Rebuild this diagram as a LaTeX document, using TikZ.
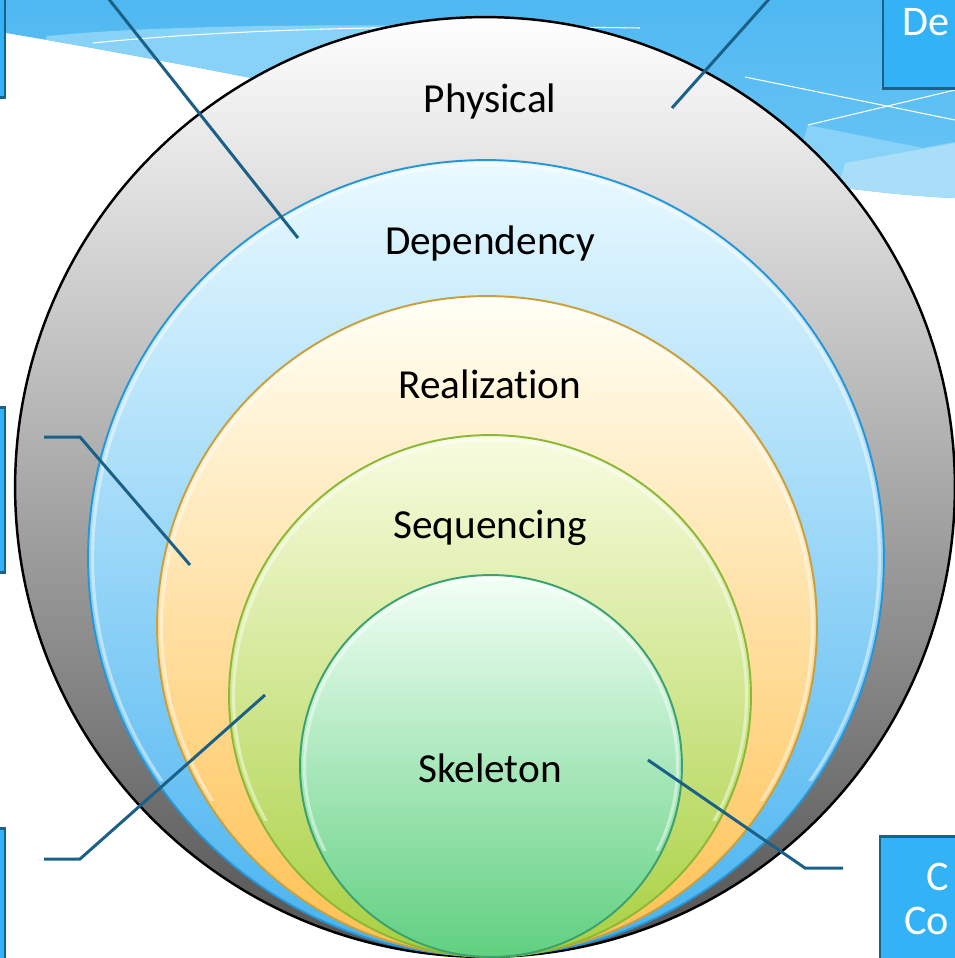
\documentclass[tikz,border=0pt]{standalone}
\usepackage{fontspec}
\setmainfont[Ligatures=NoCommon]{Carlito}
\usetikzlibrary{positioning}

\definecolor{swoosh}{HTML}{4FB8F1}
\definecolor{swooshlow}{HTML}{6CC6F5}
\definecolor{swooshlight}{HTML}{88D2F7}
\definecolor{swooshpale}{HTML}{A9DEF9}
\definecolor{boxblue}{HTML}{33B3F6}
\definecolor{leader}{HTML}{1A6087}
% ring colours: top, middle, bottom, edge
\definecolor{depTop}{HTML}{EAFAFF}
\definecolor{depMid}{HTML}{B2E4FA}
\definecolor{depBot}{HTML}{46B2F0}
\definecolor{depEdge}{HTML}{2696D6}
\definecolor{realTop}{HTML}{FFFFF4}
\definecolor{realMid}{HTML}{FFE8B0}
\definecolor{realBot}{HTML}{FFC050}
\definecolor{realEdge}{HTML}{C8A040}
\definecolor{seqTop}{HTML}{F8FCE0}
\definecolor{seqMid}{HTML}{E0F0A0}
\definecolor{seqBot}{HTML}{A8D040}
\definecolor{seqEdge}{HTML}{8CB838}
\definecolor{skelTop}{HTML}{F2FFF6}
\definecolor{skelMid}{HTML}{A8EDB8}
\definecolor{skelBot}{HTML}{60D080}
\definecolor{skelEdge}{HTML}{3CA070}

\tikzset{
  leaderline/.style={leader, line width=1.7pt},
  sidebox/.style={fill=boxblue, draw=leader, line width=1.7pt},
  ringtext/.style={font=\fontsize{23.5}{28}\selectfont},
  boxtext/.style={font=\fontsize{24}{28}\selectfont, text=white, anchor=west, inner sep=0pt},
  gloss/.style={white, opacity=0.45, line width=1.8pt},
}

\begin{document}
\begin{tikzpicture}[x=0.02cm, y=-0.02cm]
    \useasboundingbox (0,0) rectangle (955,958);
    \clip (0,0) rectangle (955,958);

    % background swoosh
    \shade[top color=swoosh, bottom color=swooshlow] (0,0) -- (955,0) -- (955,198) .. controls (750,190) and (350,90) .. (0,32) -- cycle;
    \begin{scope}
      \clip (0,0) -- (955,0) -- (955,198) .. controls (750,190) and (350,90) .. (0,32) -- cycle;
      \fill[swooshlight] (47,36) .. controls (150,26) and (300,24) .. (500,26) -- (500,200) -- (0,200) -- cycle;
      \fill[swooshlight] (808,125) -- (923,148) -- (955,142) -- (955,220) -- (780,220) -- cycle;
      \fill[swooshpale] (845,163) -- (955,143) -- (955,220) -- (830,220) -- cycle;
    \end{scope}
    \draw[white, line width=0.6pt] (93,43) .. controls (250,27) and (450,25) .. (640,28);
    \draw[white, line width=0.6pt] (745,77) -- (955,120);
    \draw[white, line width=0.6pt] (808,125) -- (955,90);

    \coordinate (c1) at (485,487);
    \coordinate (c2) at (486,558);
    \coordinate (c3) at (487,626);
    \coordinate (c4) at (490,696);
    \coordinate (c5) at (491,766);

    % nested rings, gloss only on the upper part
    \shade[top color=white, middle color=black!22, bottom color=black!68] (c1) circle[radius=9.4cm];
    \draw[black, line width=1.4pt] (c1) circle[radius=9.4cm];
    \shade[top color=depTop, middle color=depMid, bottom color=depBot] (c2) circle[radius=7.96cm];
    \begin{scope}
      \clip (0,0) rectangle (955,780);
      \draw[gloss] (c2) circle[radius=7.87cm];
    \end{scope}
    \draw[depEdge, line width=1.1pt] (c2) circle[radius=7.96cm];
    \shade[top color=realTop, middle color=realMid, bottom color=realBot] (c3) circle[radius=6.6cm];
    \begin{scope}
      \clip (0,0) rectangle (955,800);
      \draw[gloss] (c3) circle[radius=6.51cm];
    \end{scope}
    \draw[realEdge, line width=1.1pt] (c3) circle[radius=6.6cm];
    \shade[top color=seqTop, middle color=seqMid, bottom color=seqBot] (c4) circle[radius=5.22cm];
    \begin{scope}
      \clip (0,0) rectangle (955,820);
      \draw[gloss] (c4) circle[radius=5.13cm];
    \end{scope}
    \draw[seqEdge, line width=1.1pt] (c4) circle[radius=5.22cm];
    \shade[top color=skelTop, middle color=skelMid, bottom color=skelBot] (c5) circle[radius=3.82cm];
    \begin{scope}
      \clip (0,0) rectangle (955,850);
      \draw[gloss] (c5) circle[radius=3.73cm];
    \end{scope}
    \draw[skelEdge, line width=1.1pt] (c5) circle[radius=3.82cm];

    \node[ringtext] (physical) at (490,101) {Physical};
    \node[ringtext] (dependency) at (490,243) {Dependency};
    \node[ringtext] (realization) at (490,384) {Realization};
    \node[ringtext] (sequencing) at (490,528) {Sequencing};
    \node[ringtext] (skeleton) at (490,768) {Skeleton};

    % side boxes, cut by the page edge
    \draw[sidebox] (-100,-50) rectangle (5,97);
    \draw[sidebox] (883,-50) rectangle (1050,88);
    \draw[sidebox] (-100,407) rectangle (5,572);
    \draw[sidebox] (-100,828) rectangle (5,1050);
    \draw[sidebox] (880,836) rectangle (1050,1050);
    \node[boxtext] (tr-text) at (902,22) {De};
    \node[boxtext] (br-text1) at (926,877) {C};
    \node[boxtext] (br-text2) at (904,921) {Co};

    % leader lines
    \coordinate (d-in) at (108,-2);
    \coordinate (d-tip) at (298,238);
    \coordinate (p-in) at (770,-2);
    \coordinate (p-tip) at (672,108);
    \coordinate (r-end) at (44,437);
    \coordinate (r-bend) at (80,437);
    \coordinate (r-tip) at (190,565);
    \coordinate (s-end) at (44,859);
    \coordinate (s-bend) at (80,859);
    \coordinate (s-tip) at (265,695);
    \coordinate (k-tip) at (648,760);
    \coordinate (k-bend) at (805,868);
    \coordinate (k-end) at (843,868);
    \draw[leaderline] (d-in) -- (d-tip);
    \draw[leaderline] (p-in) -- (p-tip);
    \draw[leaderline] (r-end) -- (r-bend) -- (r-tip);
    \draw[leaderline] (s-end) -- (s-bend) -- (s-tip);
    \draw[leaderline] (k-tip) -- (k-bend) -- (k-end);
\end{tikzpicture}
\end{document}
